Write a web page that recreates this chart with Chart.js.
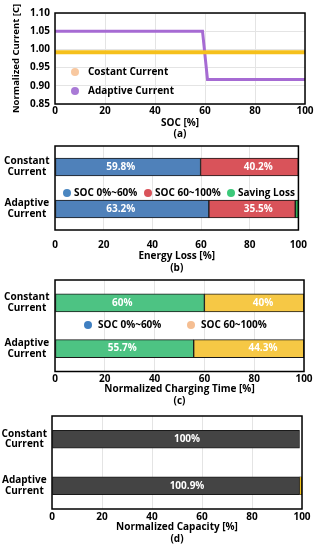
<!DOCTYPE html>
<html>
<head>
<meta charset="utf-8">
<script src="https://cdn.jsdelivr.net/npm/chart.js@4.4.0/dist/chart.umd.min.js"></script>
<style>
  html, body { margin: 0; padding: 0; background: #fff; }
  #wrap { position: relative; width: 316px; height: 550px; }
  .panel { position: absolute; left: 0; width: 316px; }
</style>
</head>
<body>
<div id="wrap">
  <div class="panel" style="top:0;height:140px"><canvas id="chartA"></canvas></div>
  <div class="panel" style="top:140px;height:134px"><canvas id="chartB"></canvas></div>
  <div class="panel" style="top:274px;height:134px"><canvas id="chartC"></canvas></div>
  <div class="panel" style="top:408px;height:137px"><canvas id="chartD"></canvas></div>
</div>
<script>
// (a) current profile vs SOC
const socPoints = [0, 59, 61, 100];
const constantCurrent = [0.992, 0.992, 0.992, 0.992];
const adaptiveCurrent = [1.05, 1.05, 0.917, 0.917];
const currentTicks = [0.85, 0.90, 0.95, 1.00, 1.05, 1.10];
const currentSeries = ["Costant Current", "Adaptive Current"];

// shared categories / axis ticks for (b)-(d)
const methods = [["Constant", "Current"], ["Adaptive", "Current"]];
const percentTicks = [0, 20, 40, 60, 80, 100];

// (b) energy loss
const lossSeries = ["SOC 0%~60%", "SOC 60~100%", "Saving Loss"];
const lossLow = [59.8, 63.2];
const lossHigh = [40.2, 35.5];
const lossSaving = [0, 1.3];

// (c) charging time
const timeSeries = ["SOC 0%~60%", "SOC 60~100%"];
const timeLow = [60, 55.7];
const timeHigh = [40, 44.3];

// (d) capacity
const capacityBase = [99, 99];
const capacityGain = [0, 0.9];
const capacityText = ["100%", "100.9%"];

const FONT = '"Open Sans", "DejaVu Sans", sans-serif';
Chart.defaults.font.family = FONT;
Chart.defaults.font.weight = "bold";
Chart.defaults.font.size = 10;
Chart.defaults.color = "#000";

const GRID = "#e4e4e4";
const pct = v => v + "%";

// black box around the plot area
const frame = {
  id: "frame",
  afterDraw(chart) {
    const { ctx, chartArea: a } = chart;
    ctx.save();
    ctx.strokeStyle = "#000";
    ctx.lineWidth = 1.5;
    ctx.strokeRect(a.left, a.top, a.right - a.left, a.bottom - a.top);
    ctx.restore();
  }
};

// white value text inside the bars
const barText = {
  id: "barText",
  afterDatasetsDraw(chart) {
    const ctx = chart.ctx;
    const xs = chart.scales.x;
    ctx.save();
    ctx.font = "bold 10px " + FONT;
    ctx.fillStyle = "#fff";
    ctx.textAlign = "center";
    ctx.textBaseline = "middle";
    chart.data.datasets.forEach((ds, i) => {
      if (!ds.valueText) return;
      chart.getDatasetMeta(i).data.forEach((bar, j) => {
        const t = ds.valueText[j];
        if (!t) return;
        ctx.fillText(t, xs.getPixelForValue(ds.textAt), bar.y);
      });
    });
    ctx.restore();
  }
};

// legend drawn inside the plot area
const innerLegend = {
  id: "innerLegend",
  afterDraw(chart, args, opts) {
    if (!opts.items) return;
    const { ctx, chartArea: a } = chart;
    ctx.save();
    ctx.font = "bold 10px " + FONT;
    ctx.textBaseline = "middle";
    ctx.textAlign = "left";
    opts.items.forEach(it => {
      const x = a.left + it.dx, y = a.top + it.dy;
      ctx.fillStyle = it.color;
      ctx.beginPath();
      ctx.arc(x, y, 4, 0, Math.PI * 2);
      ctx.fill();
      ctx.fillStyle = "#000";
      ctx.fillText(it.text, x + opts.textDx, y + 0.5);
    });
    ctx.restore();
  }
};

Chart.register(frame, barText, innerLegend);

const tickSetter = list => s => { s.ticks = list.map(v => ({ value: v })); };

// (a)
new Chart(document.getElementById("chartA"), {
  type: "line",
  data: {
    datasets: [
      {
        label: currentSeries[0],
        data: socPoints.map((x, i) => ({ x, y: constantCurrent[i] })),
        borderColor: "#F5C01C",
        borderWidth: 4,
        pointRadius: 0,
        tension: 0
      },
      {
        label: currentSeries[1],
        data: socPoints.map((x, i) => ({ x, y: adaptiveCurrent[i] })),
        borderColor: "#A66BD3",
        borderWidth: 3,
        pointRadius: 0,
        tension: 0
      }
    ]
  },
  options: {
    responsive: true,
    maintainAspectRatio: false,
    animation: false,
    layout: { padding: { top: 13, right: 11, left: 0, bottom: 0 } },
    plugins: {
      legend: { display: false },
      tooltip: { enabled: false },
      innerLegend: {
        textDx: 13,
        items: [
          { text: currentSeries[0], color: "#F8C8A0", dx: 20, dy: 59 },
          { text: currentSeries[1], color: "#A97AD6", dx: 20, dy: 78 }
        ]
      }
    },
    scales: {
      x: {
        type: "linear",
        min: 0,
        max: 100,
        afterBuildTicks: tickSetter(percentTicks),
        afterFit: s => { s.height = 36; },
        grid: { color: GRID, drawTicks: false },
        border: { display: false },
        ticks: { padding: 1 },
        title: { display: true, text: ["SOC [%]", "(a)"], font: { size: 10, lineHeight: 1.1 }, padding: 0 }
      },
      y: {
        min: 0.85,
        max: 1.10,
        afterBuildTicks: tickSetter(currentTicks),
        afterFit: s => { s.width = 55; s.paddingTop = 0; s.paddingBottom = 0; },
        grid: { color: GRID, drawTicks: false },
        border: { display: false },
        ticks: { padding: 5, callback: v => v.toFixed(2) },
        title: { display: true, text: "Normalized Current [C]", font: { size: 9.5, lineHeight: 1.2 }, padding: { top: 11, bottom: 0 } }
      }
    }
  }
});

function barOptions(o) {
  return {
    indexAxis: "y",
    responsive: true,
    maintainAspectRatio: false,
    animation: false,
    layout: { padding: { top: o.top, right: o.right, left: 0, bottom: 0 } },
    plugins: {
      legend: { display: false },
      tooltip: { enabled: false },
      innerLegend: o.legend || {}
    },
    scales: {
      x: {
        type: "linear",
        stacked: true,
        min: 0,
        max: 100,
        afterBuildTicks: tickSetter(percentTicks),
        afterFit: s => { s.height = o.axisH; },
        grid: { color: GRID, drawTicks: false },
        border: { display: false },
        ticks: { padding: o.tickPad },
        title: { display: true, text: o.title, font: { size: 10, lineHeight: o.titleLH }, padding: 0 }
      },
      y: {
        stacked: true,
        afterFit: s => { s.width = o.left; s.paddingTop = 0; s.paddingBottom = 0; },
        grid: { display: false, drawTicks: false },
        border: { display: false },
        ticks: { padding: o.catPad, crossAlign: "center", font: { size: 10, lineHeight: 1.07 } }
      }
    }
  };
}

const barStyle = { barThickness: 18, borderColor: "#1a1a1a", borderWidth: 1, borderSkipped: false };

// (b)
new Chart(document.getElementById("chartB"), {
  type: "bar",
  data: {
    labels: methods,
    datasets: [
      { label: lossSeries[0], data: lossLow, backgroundColor: "#4F81BA", valueText: lossLow.map(pct), textAt: 27, ...barStyle },
      { label: lossSeries[1], data: lossHigh, backgroundColor: "#D9535A", valueText: lossHigh.map(pct), textAt: 83.5, ...barStyle },
      { label: lossSeries[2], data: lossSaving, backgroundColor: "#2FAE57", ...barStyle }
    ]
  },
  options: barOptions({
    top: 6, right: 12, left: 55, axisH: 44, tickPad: 9, catPad: 5.5,
    title: ["Energy Loss [%]", "(b)"], titleLH: 1.17,
    legend: {
      textDx: 7,
      items: [
        { text: lossSeries[0], color: "#4A86C0", dx: 12, dy: 47 },
        { text: lossSeries[1], color: "#D9535A", dx: 93, dy: 47 },
        { text: lossSeries[2], color: "#3CC97A", dx: 176, dy: 47 }
      ]
    }
  })
});

// (c)
new Chart(document.getElementById("chartC"), {
  type: "bar",
  data: {
    labels: methods,
    datasets: [
      { label: timeSeries[0], data: timeLow, backgroundColor: "#4DC383", valueText: timeLow.map(pct), textAt: 27, ...barStyle },
      { label: timeSeries[1], data: timeHigh, backgroundColor: "#F6C845", valueText: timeHigh.map(pct), textAt: 83.5, ...barStyle }
    ]
  },
  options: barOptions({
    top: 6, right: 12, left: 55, axisH: 36.5, tickPad: 2, catPad: 5.5,
    title: ["Normalized Charging Time [%]", "(c)"], titleLH: 1.27,
    legend: {
      textDx: 10,
      items: [
        { text: timeSeries[0], color: "#3F7FC1", dx: 33, dy: 45 },
        { text: timeSeries[1], color: "#F5BE92", dx: 136, dy: 45 }
      ]
    }
  })
});

// (d)
new Chart(document.getElementById("chartD"), {
  type: "bar",
  data: {
    labels: methods,
    datasets: [
      { label: "Capacity", data: capacityBase, backgroundColor: "#444444", valueText: capacityText, textAt: 54, ...barStyle },
      { label: "Gain", data: capacityGain, backgroundColor: "#F2C21B", ...barStyle, borderWidth: 0.5 }
    ]
  },
  options: barOptions({
    top: 8, right: 14, left: 52, axisH: 36, tickPad: 2.3, catPad: 5,
    title: ["Normalized Capacity [%]", "(d)"], titleLH: 1.2
  })
});
</script>
</body>
</html>
